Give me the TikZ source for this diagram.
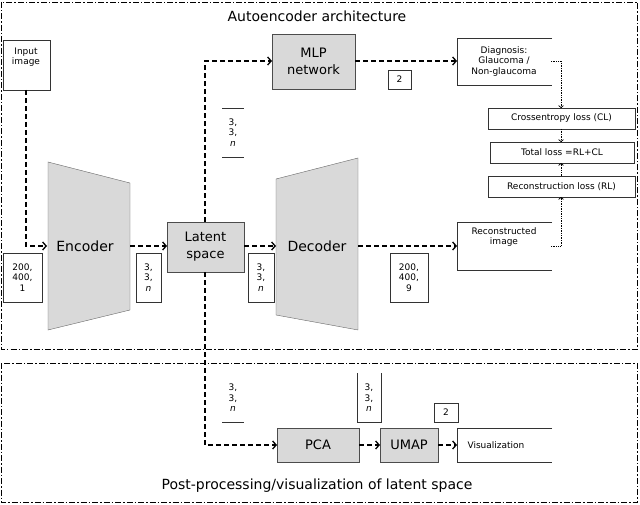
\documentclass[tikz,border=0pt]{standalone}
\usepackage{fontspec}
\setmainfont{DejaVu Sans}
\usetikzlibrary{arrows.meta}
\begin{document}
\begin{tikzpicture}[x=1pt,y=-1pt,
  frame/.style={dash pattern=on 6pt off 2pt on 1.5pt off 2pt,line width=0.8pt},
  gbox/.style={draw=black!70,fill=black!15,line width=0.9pt},
  wbox/.style={draw=black!80,fill=white,line width=0.7pt},
  dim/.style={font=\fontsize{9}{10.5}\selectfont,align=center},
  big/.style={font=\fontsize{14}{17}\selectfont,align=center},
  arr/.style={dash pattern=on 5pt off 3pt,line width=1.3pt,-{Straight Barb[length=3.5pt,width=8pt]}},
  dot/.style={densely dotted,line width=0.7pt,-{Straight Barb[length=2pt,width=5pt]}}]
\useasboundingbox (0,0) rectangle (640,505);
\draw[frame] (1,2) rectangle (637,349);
\draw[frame] (1,363) rectangle (637,502);
\node[font=\fontsize{14}{17}\selectfont] (t1) at (317,16) {Autoencoder architecture};
\node[font=\fontsize{14}{17}\selectfont] (t2) at (317,486) {Post-processing/visualization of latent space};
% input
\draw[wbox] (3,40) rectangle (50,90);
\node[dim] (in) at (26,57) {Input\\image};
\coordinate (inb) at (26,90);
% encoder / decoder
\filldraw[fill=black!15,draw=black!60] (48,162) -- (130,183) -- (130,310) -- (48,330) -- cycle;
\node[big] (enc) at (85,246) {Encoder};
\filldraw[fill=black!15,draw=black!60] (276,179) -- (358,158) -- (358,330) -- (276,315) -- cycle;
\node[big] (dec) at (317,246) {Decoder};
\coordinate (encL) at (47,246); \coordinate (encR) at (130,246);
\coordinate (decL) at (276,246); \coordinate (decR) at (358,246);
% latent
\draw[gbox] (167,222) rectangle (244,272);
\node[big,font=\fontsize{13}{17}\selectfont] (lat) at (205.5,247) {Latent\\space};
\coordinate (latT) at (205,222); \coordinate (latB) at (205,272);
\coordinate (latL) at (167,246); \coordinate (latR) at (244,246);
% MLP
\draw[gbox] (272,34) rectangle (355,89);
\node[big,font=\fontsize{13}{17}\selectfont] (mlp) at (313.5,61.5) {MLP\\network};
\coordinate (mlpL) at (272,61); \coordinate (mlpR) at (355,61);
% dim boxes
\draw[wbox] (3,253) rectangle (42,302); \node[dim] (d1) at (22.5,277.5) {200,\\400,\\1};
\draw[wbox] (136,253) rectangle (161,302); \node[dim] (d2) at (148.5,277.5) {3,\\3,\\\textit{n}};
\draw[wbox] (248,253) rectangle (274,302); \node[dim] (d3) at (261,277.5) {3,\\3,\\\textit{n}};
\draw[wbox] (390,253) rectangle (428,302); \node[dim] (d4) at (409,277.5) {200,\\400,\\9};
\draw[wbox] (388,70) rectangle (411,89); \node[dim] (d5) at (399.5,79.5) {2};
\draw[black!80] (222,108) -- (244,108) (222,157) -- (244,157);
\node[dim] (d6) at (233,132.5) {3,\\3,\\\textit{n}};
\draw[black!80] (222,422) -- (244,422);
\node[dim] (d7) at (233,398) {3,\\3,\\\textit{n}};
\draw[wbox] (357,422) -- (357,373) (381,373) -- (381,422) -- (357,422);
\node[dim] (d8) at (369,398) {3,\\3,\\\textit{n}};
\draw[wbox] (434,403) rectangle (458,422); \node[dim] (d9) at (446,412.5) {2};
% outputs (open right)
\draw[wbox] (552,38) -- (457,38) -- (457,85) -- (552,85);
\node[dim] (diag) at (504,61.5) {Diagnosis:\\Glaucoma /\\Non-glaucoma};
\draw[wbox] (552,222) -- (457,222) -- (457,270) -- (552,270);
\node[dim,anchor=north] (rec) at (504,224) {Reconstructed\\image};
\coordinate (diagL) at (457,61); \coordinate (recL) at (457,246);
% losses
\draw[wbox] (488,108) rectangle (635,129); \node[dim] (cl) at (561.5,118.5) {Crossentropy loss (CL)};
\draw[wbox] (490,142) rectangle (634,163); \node[dim] (tl) at (562,152.5) {Total loss =RL+CL};
\draw[wbox] (488,176) rectangle (635,197); \node[dim] (rl) at (561.5,186.5) {Reconstruction loss (RL)};
\coordinate (clT) at (561,108); \coordinate (clB) at (561,129);
\coordinate (tlT) at (561,142); \coordinate (tlB) at (561,163);
\coordinate (rlT) at (561,176); \coordinate (rlB) at (561,197);
\coordinate (diagE) at (551,61); \coordinate (recE) at (551,246);
\draw[dot] (diagE) -| (clT);
\draw[dot] (clB) -- (tlT);
\draw[dot] (rlT) -- (tlB);
\draw[dot] (recE) -| (rlB);
% lower
\draw[gbox] (277,428) rectangle (359,462); \node[big,font=\fontsize{13}{17}\selectfont] (pca) at (318,445) {PCA};
\draw[gbox] (380,428) rectangle (438,462); \node[big,font=\fontsize{13}{17}\selectfont] (umap) at (409,445) {UMAP};
\draw[wbox] (552,428) -- (457,428) -- (457,462) -- (552,462);
\node[dim,anchor=west] (vis) at (464,445) {Visualization};
\coordinate (pcaL) at (277,445); \coordinate (pcaR) at (359,445);
\coordinate (umapL) at (380,445); \coordinate (umapR) at (438,445);
\coordinate (visL) at (457,445);
% arrows
\draw[arr] (inb) |- (encL);
\draw[arr] (encR) -- (latL);
\draw[arr] (latR) -- (decL);
\draw[arr] (decR) -- (recL);
\draw[arr] (latT) |- (mlpL);
\draw[arr] (mlpR) -- (diagL);
\draw[arr] (latB) |- (pcaL);
\draw[arr] (pcaR) -- (umapL);
\draw[arr] (umapR) -- (visL);
\end{tikzpicture}
\end{document}
